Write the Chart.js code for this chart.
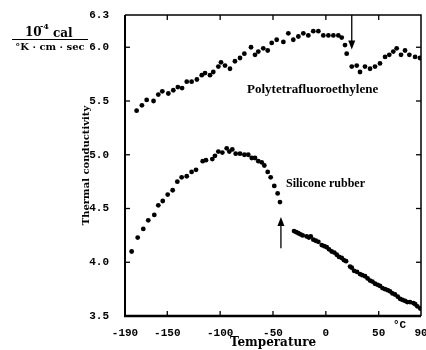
<!DOCTYPE html>
<html>
<head>
<meta charset="utf-8">
<script src="https://cdn.jsdelivr.net/npm/chart.js@4/dist/chart.umd.min.js"></script>
<style>
  html, body { margin: 0; padding: 0; background: #fff; }
  #wrap { width: 426px; height: 350px; }
</style>
</head>
<body>
<div id="wrap"><canvas id="chart" width="426" height="350"></canvas></div>
<script>
// values (temperature in deg C, conductivity in 1e-4 cal/K/cm/s)
var ptfeTemp = [-179, -174, -169.5, -163, -158.5, -154.7, -149, -144.3, -140, -136, -131.6, -127, -122, -117.4, -114.3, -109.6, -106.5, -101.7, -99.2, -95.4, -90.7, -86, -81.2, -77.1, -70.8, -67, -63.9, -59.2, -55, -51.2, -46.5, -40.2, -35.5, -30.8, -26, -21.3, -16.6, -11.9, -7.1, -2.4, 2.4, 7.1, 11.8, 15, 18.1, 19.7, 24.5, 29.2, 32.3, 37, 41.8, 46.5, 51.2, 56, 60, 63.8, 67, 71.1, 74.9, 79, 84.4, 89];
var ptfeK = [5.41, 5.46, 5.51, 5.50, 5.56, 5.59, 5.57, 5.60, 5.63, 5.62, 5.68, 5.68, 5.70, 5.74, 5.76, 5.74, 5.77, 5.82, 5.86, 5.83, 5.80, 5.87, 5.90, 5.94, 6.00, 5.93, 5.96, 5.99, 5.97, 6.04, 6.07, 6.05, 6.13, 6.07, 6.10, 6.13, 6.11, 6.15, 6.15, 6.11, 6.11, 6.11, 6.11, 6.09, 6.02, 5.94, 5.82, 5.83, 5.77, 5.82, 5.80, 5.82, 5.85, 5.91, 5.93, 5.96, 5.99, 5.93, 5.97, 5.93, 5.91, 5.90];

var siliconeTemp = [-183.7, -178, -172.7, -168, -162.3, -158.5, -154.3, -149.6, -144.9, -140.5, -136.4, -131.6, -127, -122.8, -116.5, -113.4, -107.4, -104.9, -101.7, -97.9, -93.8, -91.3, -88.5, -85.3, -81.2, -77.1, -73.4, -70.1, -67, -63.9, -60.7, -58.2, -55, -52.2, -48.8, -45.6, -43.4,
  -30.1, -28, -26, -24, -21.9, -18.1, -16, -14.3, -11.8, -9.5, -7.1, -3.9, -1.5, 0.8, 3, 5.5, 8, 10.3, 12.5, 15, 17, 19.1, 22.9, 24.5, 26.7, 29.5, 32.3, 34.5, 37.1, 39.5, 41.8, 44, 46.5, 49, 51.2, 53.5, 56, 58.5, 60.7, 63, 65.4, 68, 70.2, 72.5, 74.9, 77, 79.6, 82.8, 84.5, 86.5, 89.3];
var siliconeK = [4.10, 4.23, 4.31, 4.39, 4.44, 4.53, 4.57, 4.63, 4.67, 4.75, 4.79, 4.80, 4.84, 4.86, 4.94, 4.95, 4.96, 4.99, 5.03, 5.02, 5.06, 5.03, 5.05, 5.01, 5.01, 5.00, 5.00, 4.97, 4.97, 4.94, 4.93, 4.90, 4.84, 4.79, 4.71, 4.64, 4.56,
  4.29, 4.28, 4.27, 4.26, 4.25, 4.24, 4.23, 4.24, 4.21, 4.20, 4.19, 4.16, 4.15, 4.14, 4.12, 4.10, 4.09, 4.07, 4.05, 4.04, 4.02, 4.01, 3.96, 3.95, 3.92, 3.91, 3.89, 3.88, 3.87, 3.85, 3.83, 3.82, 3.80, 3.79, 3.78, 3.76, 3.75, 3.74, 3.73, 3.71, 3.70, 3.68, 3.66, 3.65, 3.64, 3.63, 3.63, 3.62, 3.61, 3.59, 3.57];

var xTicks = [-190, -150, -100, -50, 0, 50, 90];
var yTicks = [3.5, 4.0, 4.5, 5.0, 5.5, 6.0, 6.3];
var xMarks = [-150, -100, -50, 0, 50];
var yMarks = [4.0, 4.5, 5.0, 5.5, 6.0];

function toPoints(xs, ys) {
  var pts = [];
  for (var i = 0; i < xs.length; i++) {
    pts.push({x: xs[i], y: ys[i]});
  }
  return pts;
}

var tickFont = {family: 'Liberation Mono', size: 11, weight: 'bold'};

// frame, inward ticks, arrows and the text notes
var decorations = {
  id: 'decorations',
  afterDraw: function(chart) {
    var ctx = chart.ctx;
    var a = chart.chartArea;
    var xs = chart.scales.x, ys = chart.scales.y;
    ctx.save();
    ctx.strokeStyle = '#000';
    ctx.fillStyle = '#000';

    ctx.lineWidth = 2;
    ctx.beginPath(); ctx.moveTo(a.left, a.top); ctx.lineTo(a.left, a.bottom); ctx.stroke();
    ctx.lineWidth = 2.5;
    ctx.beginPath(); ctx.moveTo(a.left - 1, a.bottom); ctx.lineTo(a.right, a.bottom); ctx.stroke();
    ctx.lineWidth = 1.5;
    ctx.beginPath(); ctx.moveTo(a.left, a.top); ctx.lineTo(a.right, a.top); ctx.lineTo(a.right, a.bottom); ctx.stroke();

    ctx.lineWidth = 1.3;
    xMarks.forEach(function(v) {
      var px = xs.getPixelForValue(v);
      ctx.beginPath(); ctx.moveTo(px, a.bottom); ctx.lineTo(px, a.bottom - 5); ctx.stroke();
      ctx.beginPath(); ctx.moveTo(px, a.top); ctx.lineTo(px, a.top + 5); ctx.stroke();
    });
    yMarks.forEach(function(v) {
      var py = ys.getPixelForValue(v);
      ctx.beginPath(); ctx.moveTo(a.left, py); ctx.lineTo(a.left + 5, py); ctx.stroke();
      ctx.beginPath(); ctx.moveTo(a.right, py); ctx.lineTo(a.right - 5, py); ctx.stroke();
    });

    // arrows marking the transitions
    function arrow(xv, fromY, toY) {
      var px = xs.getPixelForValue(xv);
      var y0 = ys.getPixelForValue(fromY), y1 = ys.getPixelForValue(toY);
      var dir = y1 > y0 ? 1 : -1;
      ctx.lineWidth = 1.3;
      ctx.beginPath(); ctx.moveTo(px, y0); ctx.lineTo(px, y1 - dir * 6); ctx.stroke();
      ctx.beginPath();
      ctx.moveTo(px, y1);
      ctx.lineTo(px - 3.5, y1 - dir * 9);
      ctx.lineTo(px + 3.5, y1 - dir * 9);
      ctx.closePath();
      ctx.fill();
    }
    arrow(24.5, 6.3, 5.98);
    arrow(-42.5, 4.13, 4.42);

    ctx.textBaseline = 'middle';
    ctx.textAlign = 'left';
    ctx.font = 'bold 13px "Liberation Serif"';
    ctx.fillText('Polytetrafluoroethylene', 247, 90);
    ctx.font = 'bold 12px "Liberation Serif"';
    ctx.fillText('Silicone rubber', 286, 184);

    ctx.font = 'bold 11px "Liberation Mono"';
    ctx.fillText('°C', 393, 325);

    // unit label
    ctx.font = 'bold 12px "DejaVu Serif"';
    ctx.fillText('10', 25, 33);
    ctx.font = 'bold 8px "DejaVu Serif"';
    ctx.fillText('-4', 40, 27);
    ctx.font = 'bold 12px "DejaVu Serif"';
    ctx.fillText('cal', 53, 34);
    ctx.lineWidth = 1.2;
    ctx.beginPath(); ctx.moveTo(12, 39.5); ctx.lineTo(88, 39.5); ctx.stroke();
    ctx.textAlign = 'center';
    ctx.font = 'bold 10px "DejaVu Serif"';
    ctx.fillText('°K · cm · sec', 50, 47);
    ctx.restore();
  }
};

var ctx = document.getElementById('chart').getContext('2d');
var chart = new Chart(ctx, {
  type: 'scatter',
  data: {
    datasets: [{
      label: 'Polytetrafluoroethylene',
      data: toPoints(ptfeTemp, ptfeK),
      backgroundColor: '#000',
      borderColor: '#000',
      pointRadius: 2.4,
      borderWidth: 0
    }, {
      label: 'Silicone rubber',
      data: toPoints(siliconeTemp, siliconeK),
      backgroundColor: '#000',
      borderColor: '#000',
      pointRadius: 2.4,
      borderWidth: 0
    }]
  },
  options: {
    responsive: false,
    animation: false,
    layout: {padding: {left: 80, right: 5, top: 15, bottom: 0}},
    plugins: {
      legend: {display: false},
      tooltip: {enabled: false}
    },
    scales: {
      x: {
        type: 'linear',
        min: -190,
        max: 90,
        grid: {display: false},
        border: {display: false},
        afterBuildTicks: function(scale) {
          scale.ticks = xTicks.map(function(v) { return {value: v}; });
        },
        afterFit: function(scale) {
          scale.height = 34;
          scale.paddingLeft = 0;
          scale.paddingRight = 0;
        },
        ticks: {
          color: '#000',
          font: tickFont,
          padding: 3,
          maxRotation: 0,
          autoSkip: false,
          callback: function(v) { return String(v); }
        },
        title: {
          display: true,
          text: 'Temperature',
          color: '#000',
          font: {family: 'DejaVu Serif', size: 12, weight: 'bold'},
          padding: 0
        }
      },
      y: {
        type: 'linear',
        min: 3.5,
        max: 6.3,
        grid: {display: false},
        border: {display: false},
        afterBuildTicks: function(scale) {
          scale.ticks = yTicks.map(function(v) { return {value: v}; });
        },
        afterFit: function(scale) {
          scale.width = 45;
          scale.paddingTop = 0;
          scale.paddingBottom = 0;
        },
        ticks: {
          color: '#000',
          font: tickFont,
          padding: 8,
          autoSkip: false,
          callback: function(v) { return v.toFixed(1); }
        },
        title: {
          display: true,
          text: 'Thermal conductivity',
          color: '#000',
          font: {family: 'DejaVu Serif', size: 10, weight: 'bold'},
          padding: 0
        }
      }
    }
  },
  plugins: [decorations]
});
</script>
</body>
</html>
